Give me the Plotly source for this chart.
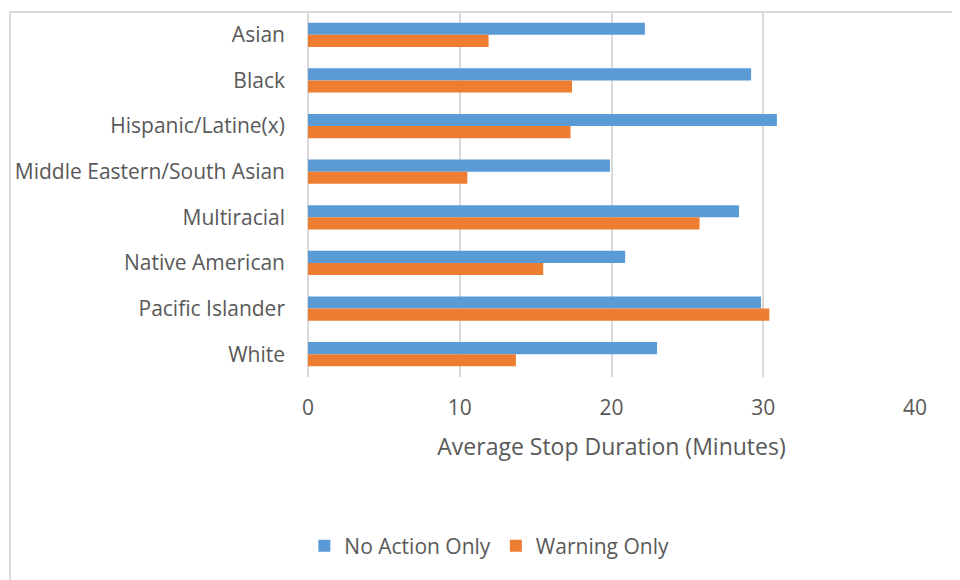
import plotly.graph_objects as go

# --- data ---
groups = ["Asian", "Black", "Hispanic/Latine(x)", "Middle Eastern/South Asian",
          "Multiracial", "Native American", "Pacific Islander", "White"]
no_action = [22.2, 29.2, 30.9, 19.9, 28.4, 20.9, 29.85, 23.0]
warning = [11.9, 17.4, 17.3, 10.5, 25.8, 15.5, 30.4, 13.7]
x_ticks = [0, 10, 20, 30, 40]

grey = "#595959"
font_family = "Open Sans, Noto Sans, sans-serif"

fig = go.Figure()

fig.add_trace(go.Bar(
    y=groups, x=no_action, orientation="h",
    name="No Action Only",
    marker=dict(color="#5B9BD5", line=dict(width=0))
))
fig.add_trace(go.Bar(
    y=groups, x=warning, orientation="h",
    name="Warning Only",
    marker=dict(color="#ED7D31", line=dict(width=0))
))

# outer chart frame (light grey, like the Excel chart area border)
fig.add_shape(type="rect", xref="paper", yref="paper",
              x0=-0.491, x1=1.2, y0=-1.0, y1=1.0,
              line=dict(color="#D9D9D9", width=2), layer="below")

# page body has an 8px margin, so margins are offset to line up with the reference
fig.update_layout(
    width=960, height=580,
    margin=dict(l=300, r=53, t=4, b=211),
    paper_bgcolor="white", plot_bgcolor="white",
    barmode="group", bargap=0.47, bargroupgap=0,
    font=dict(family=font_family, color=grey, size=21),
    showlegend=True,
    legend=dict(orientation="h", x=-0.006, xanchor="left", y=-0.463, yanchor="middle",
                font=dict(size=21, color=grey), traceorder="normal",
                itemwidth=30),
)

fig.update_xaxes(
    range=[0, 40], tickvals=x_ticks, showgrid=True, gridcolor="#D9D9D9", gridwidth=1.5,
    zeroline=True, zerolinecolor="#D9D9D9", zerolinewidth=1.5,
    showline=False, ticks="", ticklen=0, ticklabelstandoff=16,
    tickfont=dict(size=21, color=grey),
    title=dict(text="Average Stop Duration (Minutes)", font=dict(size=23, color=grey), standoff=18),
)
fig.update_yaxes(
    autorange="reversed", showgrid=False, showline=False, ticks="",
    ticklabelstandoff=22,
    tickfont=dict(size=21, color=grey),
)

fig.write_html("out.html")
